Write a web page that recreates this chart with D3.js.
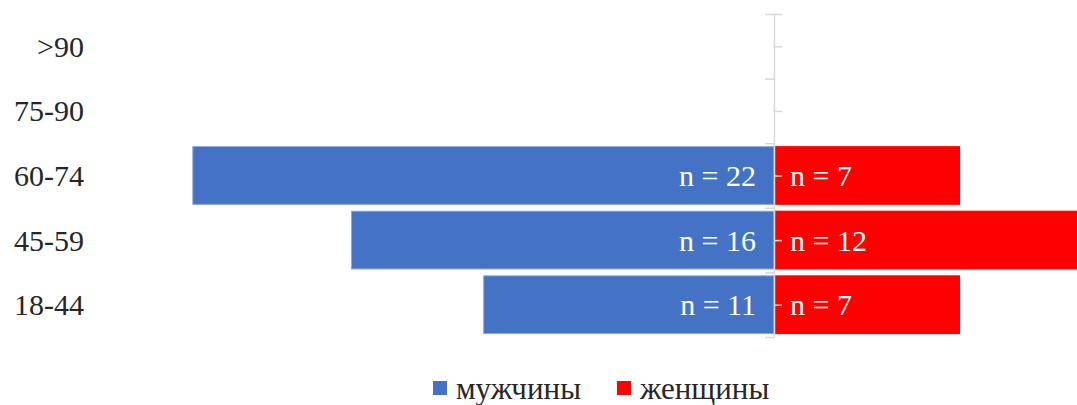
<!DOCTYPE html>
<html>
<head>
<meta charset="utf-8">
<script src="https://cdn.jsdelivr.net/npm/d3@7"></script>
<style>
  html, body { margin: 0; padding: 0; background: #fff; }
  svg { display: block; }
</style>
</head>
<body>
<svg id="chart" width="1077" height="405"></svg>
<script>
// Age groups, top to bottom
const ageGroups = [">90", "75-90", "60-74", "45-59", "18-44"];
// Counts per age group
const men   = [0, 0, 22, 16, 11];
const women = [0, 0, 7, 12, 7];
const seriesNames = ["мужчины", "женщины"];
const seriesColors = ["#4472C4", "#FF0000"];

const W = 1077, H = 405;
const centerX = 774;
const plotTop = 14, plotBottom = 337;
const FONT = "Liberation Serif";

const svg = d3.select("#chart");

const y = d3.scaleBand()
  .domain(ageGroups)
  .range([plotTop, plotBottom])
  .paddingInner(0.09)
  .paddingOuter(0.045);

// Bar length scale, shared by both sides
const len = d3.scaleLinear().domain([0, 25]).range([0, 661]);

const rows = ageGroups.map((g, i) => ({ g, m: men[i], w: women[i] }));

// Men bars (to the left of the centre line)
svg.append("g").selectAll("rect")
  .data(rows.filter(d => d.m > 0))
  .join("rect")
  .attr("x", d => centerX - len(d.m) + 0.5)
  .attr("y", d => y(d.g) + 0.5)
  .attr("width", d => len(d.m) - 0.5)
  .attr("height", y.bandwidth() - 1)
  .attr("fill", seriesColors[0])
  .attr("stroke", "#8eaadb")
  .attr("stroke-width", 1);

// Women bars (to the right)
svg.append("g").selectAll("rect")
  .data(rows.filter(d => d.w > 0))
  .join("rect")
  .attr("x", centerX + 1)
  .attr("y", d => y(d.g))
  .attr("width", d => len(d.w))
  .attr("height", y.bandwidth())
  .attr("fill", seriesColors[1]);

// Centre axis: boundary ticks to the left, centre ticks to the right
const axisColor = "#d9d9d9";
const boundaries = d3.range(ageGroups.length + 1).map(i => plotTop + i * (plotBottom - plotTop) / ageGroups.length);
const axisG = svg.append("g");
axisG.append("line")
  .attr("x1", centerX + 0.5).attr("x2", centerX + 0.5)
  .attr("y1", plotTop).attr("y2", plotBottom)
  .attr("stroke", axisColor).attr("stroke-width", 1.5);
axisG.selectAll("line.lt")
  .data(boundaries)
  .join("line").attr("class", "lt")
  .attr("x1", centerX - 9).attr("x2", centerX + 0.5)
  .attr("y1", d => d + 0.5).attr("y2", d => d + 0.5)
  .attr("stroke", axisColor).attr("stroke-width", 1.5);
axisG.selectAll("line.rt")
  .data([plotTop].concat(ageGroups.map(g => y(g) + y.bandwidth() / 2)))
  .join("line").attr("class", "rt")
  .attr("x1", centerX).attr("x2", centerX + 8)
  .attr("y1", d => d + 0.5).attr("y2", d => d + 0.5)
  .attr("stroke", axisColor).attr("stroke-width", 1.5);

// Category labels
svg.append("g").selectAll("text")
  .data(ageGroups)
  .join("text")
  .style("font-family", FONT)
  .attr("x", 84)
  .attr("y", d => y(d) + y.bandwidth() / 2)
  .attr("dy", "0.35em")
  .attr("text-anchor", "end")
  .attr("font-size", 30)
  .attr("fill", "#262626")
  .text(d => d);

// Value labels inside bars
svg.append("g").selectAll("text")
  .data(rows.filter(d => d.m > 0))
  .join("text")
  .style("font-family", FONT)
  .attr("x", centerX - 18)
  .attr("y", d => y(d.g) + y.bandwidth() / 2)
  .attr("dy", "0.35em")
  .attr("text-anchor", "end")
  .attr("font-size", 30)
  .attr("fill", "#fff")
  .text(d => "n = " + d.m);

svg.append("g").selectAll("text")
  .data(rows.filter(d => d.w > 0))
  .join("text")
  .style("font-family", FONT)
  .attr("x", centerX + 16)
  .attr("y", d => y(d.g) + y.bandwidth() / 2)
  .attr("dy", "0.35em")
  .attr("text-anchor", "start")
  .attr("font-size", 30)
  .attr("fill", "#fff")
  .text(d => "n = " + d.w);

// Legend
const legendX = [433, 617];
const legend = svg.append("g").selectAll("g")
  .data(seriesNames)
  .join("g")
  .attr("transform", (d, i) => `translate(${legendX[i]},388)`);
legend.append("rect")
  .attr("x", 0).attr("y", -7)
  .attr("width", 14).attr("height", 14)
  .attr("fill", (d, i) => seriesColors[i]);
legend.append("text")
  .style("font-family", FONT)
  .attr("x", 23)
  .attr("dy", "0.35em")
  .attr("font-size", 31)
  .attr("fill", "#262626")
  .text(d => d);
</script>
</body>
</html>
